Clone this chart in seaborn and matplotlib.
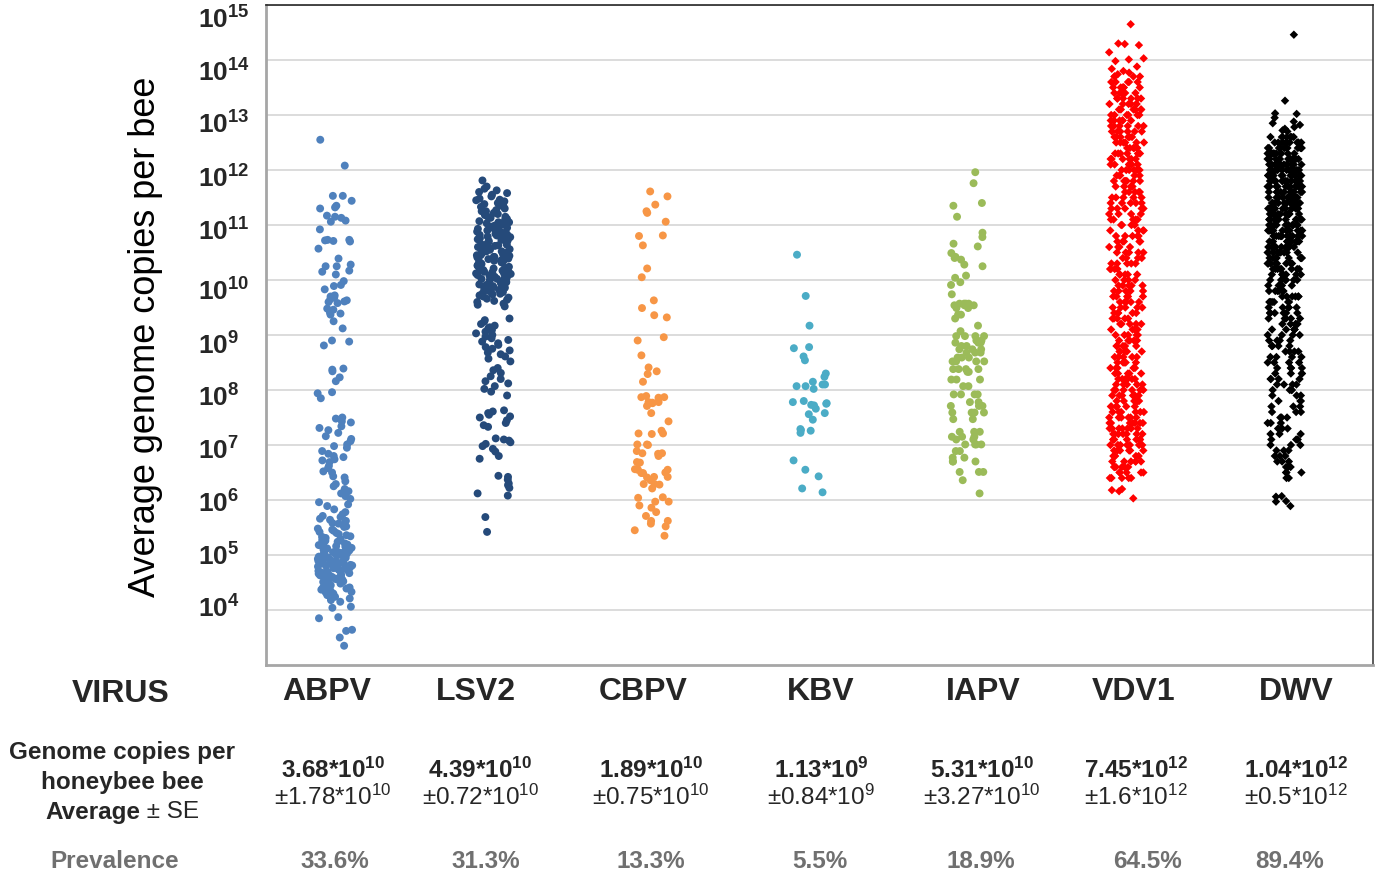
import numpy as np
import pandas as pd
import matplotlib
matplotlib.use("Agg")
import matplotlib.pyplot as plt
import matplotlib.transforms as mtransforms
from matplotlib.ticker import NullLocator
import seaborn as sns

# ---------------------------------------------------------------- data
viruses = ["ABPV", "LSV2", "CBPV", "KBV", "IAPV", "VDV1", "DWV"]
colors = ["#4F81BD", "#254A7A", "#F79646", "#4BACC6", "#9BBB59", "#FF0000", "#000000"]

# log10 genome copies for every positive bee
abpv_log = [
    12.55, 12.08,
    11.53, 11.53, 11.44, 11.35, 11.32, 11.30, 11.17, 11.15, 11.13, 11.08, 11.06,
    10.92, 10.73, 10.73, 10.72, 10.71, 10.70, 10.57,
    10.39, 10.28, 10.25, 10.25, 10.17, 10.15, 10.10,
    9.98, 9.91, 9.89, 9.83, 9.72, 9.70, 9.68, 9.65, 9.63, 9.61, 9.60, 9.58, 9.48, 9.46, 9.41,
    9.39, 9.37, 9.25, 9.12,
    8.90, 8.88, 8.81,
    8.39, 8.37, 8.34, 8.23, 8.16,
    7.96, 7.94, 7.85,
    7.50, 7.48, 7.43, 7.41, 7.34, 7.31, 7.27, 7.22, 7.16, 7.11, 7.07, 7.01, 6.98, 6.95, 6.89,
    6.84, 6.80, 6.78, 6.74, 6.72, 6.69, 6.62, 6.58, 6.52, 6.50, 6.43, 6.41, 6.34, 6.29, 6.25,
    6.20, 6.16, 6.12, 6.07, 6.02, 5.96, 5.92, 5.89, 5.83, 5.78, 5.74, 5.71, 5.69,
    5.66, 5.64, 5.62, 5.58, 5.57, 5.55, 5.52, 5.51, 5.48, 5.46, 5.44, 5.42, 5.40, 5.38, 5.36,
    5.34, 5.33, 5.31, 5.29, 5.27, 5.26, 5.24, 5.22, 5.21, 5.19, 5.18, 5.16, 5.15, 5.13, 5.12,
    5.10, 5.09, 5.08, 5.06, 5.05, 5.04, 5.03, 5.01, 5.00, 5.00, 4.99, 4.98, 4.97, 4.96, 4.95,
    4.94, 4.93, 4.92, 4.91, 4.90, 4.89, 4.88, 4.87, 4.86, 4.85, 4.84, 4.83, 4.82, 4.81, 4.80,
    4.79, 4.78, 4.77, 4.76, 4.75, 4.74, 4.73, 4.72, 4.71, 4.70, 4.69, 4.68, 4.67, 4.66, 4.65,
    4.63, 4.62, 4.60, 4.59, 4.57, 4.56, 4.54, 4.52, 4.51, 4.49, 4.47, 4.45, 4.43, 4.41, 4.39,
    4.37, 4.35, 4.32, 4.30, 4.27, 4.24, 4.21, 4.18, 4.15,
    5.05, 4.98, 4.92, 4.86, 4.80, 4.74, 4.68, 4.62, 4.55, 4.48, 4.40, 4.33,
    4.06, 4.04, 3.87, 3.85, 3.64, 3.62, 3.50, 3.35,
]
lsv2_log = [
    11.81, 11.70, 11.66, 11.63, 11.60, 11.58, 11.55, 11.52, 11.48, 11.46, 11.43, 11.40, 11.38,
    11.35, 11.33, 11.30, 11.27, 11.25, 11.22, 11.20, 11.18, 11.15, 11.13, 11.11, 11.09, 11.07,
    11.05, 11.03, 11.01, 10.99, 10.97, 10.95, 10.93, 10.91, 10.90, 10.88, 10.86, 10.84, 10.83,
    10.81, 10.79, 10.78, 10.76, 10.74, 10.73, 10.71, 10.69, 10.68, 10.66, 10.64, 10.63, 10.61,
    10.60, 10.58, 10.56, 10.55, 10.53, 10.52, 10.50, 10.48, 10.47, 10.45, 10.44, 10.42, 10.41,
    10.39, 10.38, 10.36, 10.35, 10.33, 10.32, 10.30, 10.29, 10.27, 10.26, 10.24, 10.23, 10.21,
    10.20, 10.18, 10.17, 10.15, 10.14, 10.12, 10.11, 10.09, 10.08, 10.06, 10.05, 10.03, 10.02,
    10.00, 9.99, 9.97, 9.96, 9.94, 9.92, 9.91, 9.89, 9.87, 9.86, 9.84, 9.82, 9.80, 9.78, 9.76,
    9.74, 9.72, 9.70, 9.68, 9.66, 9.64, 9.62, 9.60, 9.57, 9.55, 9.52,
    11.45, 11.35, 11.25, 11.15, 11.05, 10.95, 10.92, 10.85, 10.82, 10.75, 10.72, 10.65, 10.62,
    10.55, 10.52, 10.45, 10.42, 10.35, 10.32, 10.25, 10.22, 10.15, 10.12, 10.05, 10.02, 9.95,
    9.85, 9.75,
    9.30, 9.27, 9.24, 9.20, 9.17, 9.14, 9.12, 9.09, 9.06, 9.03, 9.00, 8.97, 8.94, 8.91, 8.88,
    8.85, 8.82, 8.78, 8.75, 8.72, 8.68, 8.65, 8.61, 8.57, 8.52,
    8.40, 8.36, 8.31, 8.25, 8.20, 8.16, 8.12, 8.07, 8.02, 7.97, 7.90,
    7.63, 7.61, 7.58, 7.55, 7.52, 7.50, 7.45, 7.40, 7.36, 7.33,
    7.12, 7.10, 7.08, 7.05, 7.02, 6.98, 6.93, 6.88, 6.80, 6.75,
    6.44, 6.42, 6.37, 6.30, 6.27, 6.22, 6.12, 6.08,
    5.69, 5.42,
]
cbpv_log = [
    11.61, 11.52, 11.37, 11.25, 11.22, 11.06, 10.81, 10.80, 10.63, 10.21, 10.05, 9.63, 9.49,
    9.36, 9.32, 8.96, 8.90, 8.63, 8.41, 8.34, 8.29, 8.15, 7.89, 7.87, 7.87, 7.86, 7.78, 7.78,
    7.77, 7.76, 7.71, 7.58, 7.43, 7.26, 7.21, 7.21, 7.20, 7.01, 7.01, 7.00, 6.89, 6.85, 6.85,
    6.84, 6.80, 6.69, 6.68, 6.56, 6.56, 6.55, 6.55, 6.50, 6.49, 6.49, 6.42, 6.42, 6.41, 6.36,
    6.29, 6.29, 6.28, 6.21, 6.05, 6.04, 5.97, 5.97, 5.90, 5.86, 5.78, 5.71, 5.62, 5.62, 5.57,
    5.52, 5.45, 5.35,
]
kbv_log = [
    10.46, 9.71, 9.17, 8.78, 8.76, 8.61, 8.54, 8.30, 8.24, 8.15, 8.10, 8.10, 8.07, 8.07, 8.02,
    7.80, 7.78, 7.76, 7.75, 7.73, 7.72, 7.66, 7.58, 7.56, 7.46, 7.29, 7.27, 7.26, 7.22, 6.72,
    6.55, 6.43, 6.21, 6.14,
]
iapv_log = [
    11.96, 11.76, 11.40, 11.35, 11.15, 10.86, 10.78, 10.66, 10.61, 10.49, 10.42, 10.40, 10.37,
    10.28, 10.25, 10.08, 10.04, 9.96, 9.91, 9.74, 9.57, 9.57, 9.57, 9.57, 9.54, 9.54, 9.54,
    9.49, 9.49, 9.37, 9.37, 9.30, 9.17, 9.07, 8.98, 8.98, 8.98, 8.98, 8.90, 8.90, 8.86, 8.86,
    8.86, 8.80, 8.80, 8.74, 8.74, 8.74, 8.68, 8.68, 8.68, 8.59, 8.59, 8.59, 8.52, 8.52, 8.52,
    8.52, 8.38, 8.38, 8.38, 8.38, 8.33, 8.33, 8.19, 8.19, 8.19, 8.07, 8.07, 7.92, 7.92, 7.92,
    7.92, 7.78, 7.78, 7.71, 7.71, 7.71, 7.59, 7.59, 7.59, 7.59, 7.47, 7.47, 7.24, 7.24, 7.24,
    7.15, 7.15, 7.15, 7.10, 7.10, 7.01, 7.01, 7.01, 7.01, 6.89, 6.89, 6.77, 6.77, 6.70, 6.70,
    6.70, 6.51, 6.51, 6.51, 6.36, 6.12,
]
vdv1_log = [
    14.65, 14.30, 14.29, 14.27, 14.14, 14.03, 14.01, 13.98, 13.88, 13.84, 13.80, 13.77, 13.74,
    13.7, 13.7, 13.7, 13.7, 13.6, 13.6, 13.6, 13.6, 13.6,
    13.5, 13.5, 13.5, 13.5, 13.5, 13.5, 13.4, 13.4, 13.4, 13.4, 13.4, 13.4,
    13.3, 13.3, 13.3, 13.3, 13.3, 13.3, 13.2, 13.2, 13.2, 13.2, 13.2, 13.2,
    13.1, 13.1, 13.1, 13.1, 13.1, 13.1, 13.0, 13.0, 13.0, 13.0, 13.0, 13.0,
    12.9, 12.9, 12.9, 12.9, 12.9, 12.9, 12.8, 12.8, 12.8, 12.8, 12.8, 12.8,
    12.7, 12.7, 12.7, 12.7, 12.7, 12.7, 12.6, 12.6, 12.6, 12.6, 12.6, 12.6,
    12.5, 12.5, 12.5, 12.5, 12.5, 12.5, 12.4, 12.4, 12.4, 12.4, 12.4, 12.4,
    12.3, 12.3, 12.3, 12.3, 12.3, 12.3, 12.2, 12.2, 12.2, 12.2, 12.2, 12.2,
    12.1, 12.1, 12.1, 12.1, 12.1, 12.1, 12.0, 12.0, 12.0, 12.0, 12.0, 12.0,
    11.9, 11.9, 11.9, 11.9, 11.9, 11.8, 11.8, 11.8, 11.8, 11.8, 11.8,
    11.7, 11.7, 11.7, 11.7, 11.7, 11.6, 11.6, 11.6, 11.6, 11.6,
    11.5, 11.5, 11.5, 11.5, 11.5, 11.4, 11.4, 11.4, 11.4, 11.4,
    11.3, 11.3, 11.3, 11.3, 11.3, 11.2, 11.2, 11.2, 11.2, 11.1, 11.1, 11.1, 11.1, 11.1,
    11.0, 11.0, 11.0, 11.0, 10.9, 10.9, 10.9, 10.9, 10.8, 10.8, 10.8, 10.8, 10.8,
    10.7, 10.7, 10.7, 10.7, 10.7, 10.6, 10.6, 10.6, 10.6, 10.5, 10.5, 10.5, 10.5, 10.5,
    10.4, 10.4, 10.4, 10.4, 10.3, 10.3, 10.3, 10.3, 10.3, 10.2, 10.2, 10.2, 10.2,
    10.1, 10.1, 10.1, 10.1, 10.1, 10.0, 10.0, 10.0, 10.0,
    9.9, 9.9, 9.9, 9.9, 9.9, 9.8, 9.8, 9.8, 9.8, 9.8, 9.7, 9.7, 9.7, 9.7, 9.7,
    9.6, 9.6, 9.6, 9.6, 9.6, 9.5, 9.5, 9.5, 9.5, 9.5, 9.4, 9.4, 9.4, 9.4, 9.4,
    9.3, 9.3, 9.3, 9.3, 9.3, 9.2, 9.2, 9.2, 9.2, 9.2, 9.1, 9.1, 9.1, 9.1,
    9.0, 9.0, 9.0, 9.0, 9.0, 8.9, 8.9, 8.9, 8.9, 8.9, 8.8, 8.8, 8.8, 8.8, 8.8,
    8.7, 8.7, 8.7, 8.7, 8.7, 8.6, 8.6, 8.6, 8.6, 8.6, 8.5, 8.5, 8.5, 8.5, 8.5,
    8.4, 8.4, 8.4, 8.4, 8.4, 8.3, 8.3, 8.3, 8.3, 8.3, 8.2, 8.2, 8.2, 8.2, 8.2, 8.2,
    8.1, 8.1, 8.1, 8.1, 8.1, 8.0, 8.0, 8.0, 8.0, 8.0, 8.0,
    7.9, 7.9, 7.9, 7.9, 7.9, 7.9, 7.8, 7.8, 7.8, 7.8, 7.8, 7.8,
    7.7, 7.7, 7.7, 7.7, 7.7, 7.7, 7.6, 7.6, 7.6, 7.6, 7.6, 7.6,
    7.5, 7.5, 7.5, 7.5, 7.5, 7.5, 7.4, 7.4, 7.4, 7.4, 7.4, 7.4, 7.4,
    7.3, 7.3, 7.3, 7.3, 7.3, 7.3, 7.3, 7.2, 7.2, 7.2, 7.2, 7.2, 7.2, 7.2,
    7.1, 7.1, 7.1, 7.1, 7.1, 7.1, 7.1, 7.0, 7.0, 7.0, 7.0, 7.0, 7.0, 7.0,
    6.9, 6.9, 6.9, 6.9, 6.9, 6.9, 6.8, 6.8, 6.8, 6.8, 6.8, 6.8,
    6.7, 6.7, 6.7, 6.7, 6.7, 6.7, 6.6, 6.6, 6.6, 6.6, 6.6, 6.6,
    6.5, 6.5, 6.5, 6.5, 6.5, 6.4, 6.4, 6.4, 6.4, 6.4,
    6.20, 6.18, 6.16, 6.03,
]
dwv_log = [
    14.46, 13.26, 13.03, 13.02, 12.95, 12.88, 12.85, 12.82, 12.78, 12.75, 12.72, 12.70,
    12.6, 12.6, 12.6, 12.6, 12.6, 12.6, 12.6,
    12.5, 12.5, 12.5, 12.5, 12.5, 12.5, 12.5, 12.5, 12.5,
    12.4, 12.4, 12.4, 12.4, 12.4, 12.4, 12.4, 12.4, 12.4, 12.4, 12.4, 12.4,
    12.3, 12.3, 12.3, 12.3, 12.3, 12.3, 12.3, 12.3, 12.3, 12.3, 12.3, 12.3, 12.3,
    12.2, 12.2, 12.2, 12.2, 12.2, 12.2, 12.2, 12.2, 12.2, 12.2, 12.2, 12.2, 12.2,
    12.1, 12.1, 12.1, 12.1, 12.1, 12.1, 12.1, 12.1, 12.1, 12.1, 12.1, 12.1, 12.1,
    12.0, 12.0, 12.0, 12.0, 12.0, 12.0, 12.0, 12.0, 12.0, 12.0, 12.0, 12.0, 12.0,
    11.9, 11.9, 11.9, 11.9, 11.9, 11.9, 11.9, 11.9, 11.9, 11.9, 11.9, 11.9, 11.9,
    11.8, 11.8, 11.8, 11.8, 11.8, 11.8, 11.8, 11.8, 11.8, 11.8, 11.8, 11.8, 11.8,
    11.7, 11.7, 11.7, 11.7, 11.7, 11.7, 11.7, 11.7, 11.7, 11.7, 11.7, 11.7, 11.7,
    11.6, 11.6, 11.6, 11.6, 11.6, 11.6, 11.6, 11.6, 11.6, 11.6, 11.6, 11.6, 11.6,
    11.5, 11.5, 11.5, 11.5, 11.5, 11.5, 11.5, 11.5, 11.5, 11.5, 11.5, 11.5, 11.5,
    11.4, 11.4, 11.4, 11.4, 11.4, 11.4, 11.4, 11.4, 11.4, 11.4, 11.4, 11.4, 11.4,
    11.3, 11.3, 11.3, 11.3, 11.3, 11.3, 11.3, 11.3, 11.3, 11.3, 11.3, 11.3, 11.3,
    11.2, 11.2, 11.2, 11.2, 11.2, 11.2, 11.2, 11.2, 11.2, 11.2, 11.2, 11.2, 11.2,
    11.1, 11.1, 11.1, 11.1, 11.1, 11.1, 11.1, 11.1, 11.1, 11.1, 11.1, 11.1, 11.1,
    11.0, 11.0, 11.0, 11.0, 11.0, 11.0, 11.0, 11.0, 11.0, 11.0, 11.0, 11.0,
    10.9, 10.9, 10.9, 10.9, 10.9, 10.9, 10.9, 10.9, 10.9, 10.9, 10.9, 10.9,
    10.8, 10.8, 10.8, 10.8, 10.8, 10.8, 10.8, 10.8, 10.8, 10.8, 10.8, 10.8,
    10.7, 10.7, 10.7, 10.7, 10.7, 10.7, 10.7, 10.7, 10.7, 10.7, 10.7,
    10.6, 10.6, 10.6, 10.6, 10.6, 10.6, 10.6, 10.6, 10.6, 10.6,
    10.5, 10.5, 10.5, 10.5, 10.5, 10.5, 10.5, 10.5, 10.5,
    10.4, 10.4, 10.4, 10.4, 10.4, 10.4, 10.4, 10.4, 10.4,
    10.3, 10.3, 10.3, 10.3, 10.3, 10.3, 10.3, 10.3,
    10.2, 10.2, 10.2, 10.2, 10.2, 10.2, 10.2, 10.2,
    10.1, 10.1, 10.1, 10.1, 10.1, 10.1, 10.1, 10.0, 10.0, 10.0, 10.0, 10.0, 10.0, 10.0,
    9.9, 9.9, 9.9, 9.9, 9.9, 9.9, 9.8, 9.8, 9.8, 9.8, 9.8, 9.8, 9.7, 9.7, 9.7, 9.7, 9.7, 9.7,
    9.6, 9.6, 9.6, 9.6, 9.6, 9.6, 9.5, 9.5, 9.5, 9.5, 9.5, 9.4, 9.4, 9.4, 9.4, 9.4, 9.4,
    9.3, 9.3, 9.3, 9.3, 9.3, 9.2, 9.2, 9.2, 9.2, 9.2, 9.1, 9.1, 9.1, 9.1, 9.1,
    9.0, 9.0, 9.0, 9.0, 8.9, 8.9, 8.9, 8.9, 8.8, 8.8, 8.8, 8.8, 8.7, 8.7, 8.7, 8.7,
    8.6, 8.6, 8.6, 8.6, 8.5, 8.5, 8.5, 8.5, 8.4, 8.4, 8.4, 8.4, 8.3, 8.3, 8.3, 8.3,
    8.2, 8.2, 8.2, 8.2, 8.1, 8.1, 8.1, 8.1, 8.0, 8.0, 8.0, 8.0,
    7.9, 7.9, 7.9, 7.8, 7.8, 7.8, 7.7, 7.7, 7.7, 7.6, 7.6, 7.6, 7.5, 7.5, 7.5,
    7.4, 7.4, 7.4, 7.3, 7.3, 7.3, 7.2, 7.2, 7.2, 7.1, 7.1, 7.1, 7.0, 7.0, 7.0,
    6.9, 6.9, 6.9, 6.8, 6.8, 6.8, 6.7, 6.7, 6.7, 6.6, 6.6, 6.6, 6.5, 6.5, 6.5, 6.4, 6.4,
    6.07, 6.06, 5.98, 5.97, 5.89,
]

mean_mantissa = ["3.68", "4.39", "1.89", "1.13", "5.31", "7.45", "1.04"]
se_mantissa = ["1.78", "0.72", "0.75", "0.84", "3.27", "1.6", "0.5"]
exponents = ["10", "10", "10", "9", "10", "12", "12"]
prevalence = ["33.6%", "31.3%", "13.3%", "5.5%", "18.9%", "64.5%", "89.4%"]

# ---------------------------------------------------------------- frame
series_logs = [abpv_log, lsv2_log, cbpv_log, kbv_log, iapv_log, vdv1_log, dwv_log]
df = pd.concat(
    [pd.DataFrame({"virus": v, "copies": np.power(10.0, np.array(vals))})
     for v, vals in zip(viruses, series_logs)],
    ignore_index=True,
)
diamond_set = ["VDV1", "DWV"]
palette = dict(zip(viruses, colors))

# ---------------------------------------------------------------- style
sns.set_theme(style="white")
plt.rcParams["font.family"] = ["Liberation Sans", "DejaVu Sans"]
plt.rcParams["mathtext.fontset"] = "custom"
plt.rcParams["mathtext.rm"] = "Liberation Sans"
plt.rcParams["mathtext.it"] = "Liberation Sans:italic"
plt.rcParams["mathtext.bf"] = "Liberation Sans:bold"

W, H = 1381, 876
fig = plt.figure(figsize=(W / 100, H / 100), dpi=100)
ax = fig.add_axes([266 / W, 1 - 665 / H, (1373 - 266) / W, (665 - 5) / H])

np.random.seed(7)
sns.stripplot(data=df[~df["virus"].isin(diamond_set)], x="virus", y="copies",
              hue="virus", order=viruses, hue_order=viruses, palette=palette,
              marker="o", size=5.7, jitter=0.11, linewidth=0, legend=False,
              ax=ax, zorder=3)
sns.stripplot(data=df[df["virus"].isin(diamond_set)], x="virus", y="copies",
              hue="virus", order=viruses, hue_order=viruses, palette=palette,
              marker="D", size=4.3, jitter=0.11, linewidth=0, legend=False,
              ax=ax, zorder=3)

ax.set_yscale("log")
ax.set_ylim(1e3, 1e15)
ax.set_xlim(-0.436, 6.557)

decades = list(range(4, 16))
ax.set_yticks([10.0 ** d for d in decades])
ax.set_yticklabels([])
ax.yaxis.set_minor_locator(NullLocator())
ax.tick_params(axis="y", length=0)
ax.tick_params(axis="x", length=0, labelbottom=False)
ax.set_xlabel("")
ax.set_ylabel("Average genome copies per bee", fontsize=26, color="#000000")
ax.yaxis.set_label_coords(-0.093, 0.497)

# decade labels, each nudged down a little below its gridline (pixels)
label_drop = [-1, 2, 4, 6, 8, 11, 12, 7, 9, 10, 13, 15]
ylab_trans = mtransforms.blended_transform_factory(ax.transAxes, ax.transData)
for d, drop in zip(decades, label_drop):
    tr = ylab_trans + mtransforms.ScaledTranslation(0, -drop / 100, fig.dpi_scale_trans)
    ax.text(-0.0614, 10.0 ** d, rf"$\mathbf{{10^{{{d}}}}}$", transform=tr,
            ha="left", va="center", fontsize=19, clip_on=False)

ax.grid(axis="y", color="#d9d9d9", linewidth=1.3)
ax.grid(axis="x", visible=False)
ax.set_axisbelow(True)

for side in ("left", "bottom"):
    ax.spines[side].set_color("#a6a6a6")
    ax.spines[side].set_linewidth(2.0)
ax.spines["top"].set_color("#262626")
ax.spines["top"].set_linewidth(1.2)
ax.spines["right"].set_color("#404040")
ax.spines["right"].set_linewidth(1.2)
for s in ax.spines.values():
    s.set_visible(True)


# ---------------------------------------------------------------- table below
def put(x, y, s, **kw):
    fig.text(x / W, 1 - y / H, s, ha=kw.pop("ha", "center"), va=kw.pop("va", "center"), **kw)


name_x = [327, 476, 643, 821, 983, 1134, 1296]
stat_x = [333, 480, 651, 821, 982, 1136, 1296]
prev_x = [335, 486, 651, 820, 981, 1147, 1290]

put(121, 694, "VIRUS", fontsize=23, fontweight="bold")
for name, x in zip(viruses, name_x):
    put(x, 692, name, fontsize=23, fontweight="bold")

put(122, 753, "Genome copies per", fontsize=17.5, fontweight="bold")
put(122, 783, "honeybee bee", fontsize=17.5, fontweight="bold")
put(140, 812, "Average", fontsize=17.5, fontweight="bold", ha="right")
put(140, 812, " \u00b1 SE", fontsize=17.5, ha="left")

for m, s, e, x in zip(mean_mantissa, se_mantissa, exponents, stat_x):
    put(x, 770, f"{m}*10$^{{\\mathbf{{{e}}}}}$", fontsize=17.5, fontweight="bold")
    put(x, 797, f"\u00b1{s}*10$^{{{e}}}$", fontsize=17.5)

put(115, 861, "Prevalence", fontsize=17.5, fontweight="bold", color="#707070")
for p, x in zip(prevalence, prev_x):
    put(x, 861, p, fontsize=17.5, fontweight="bold", color="#707070")

fig.savefig("out.png", dpi=100, facecolor="white")
